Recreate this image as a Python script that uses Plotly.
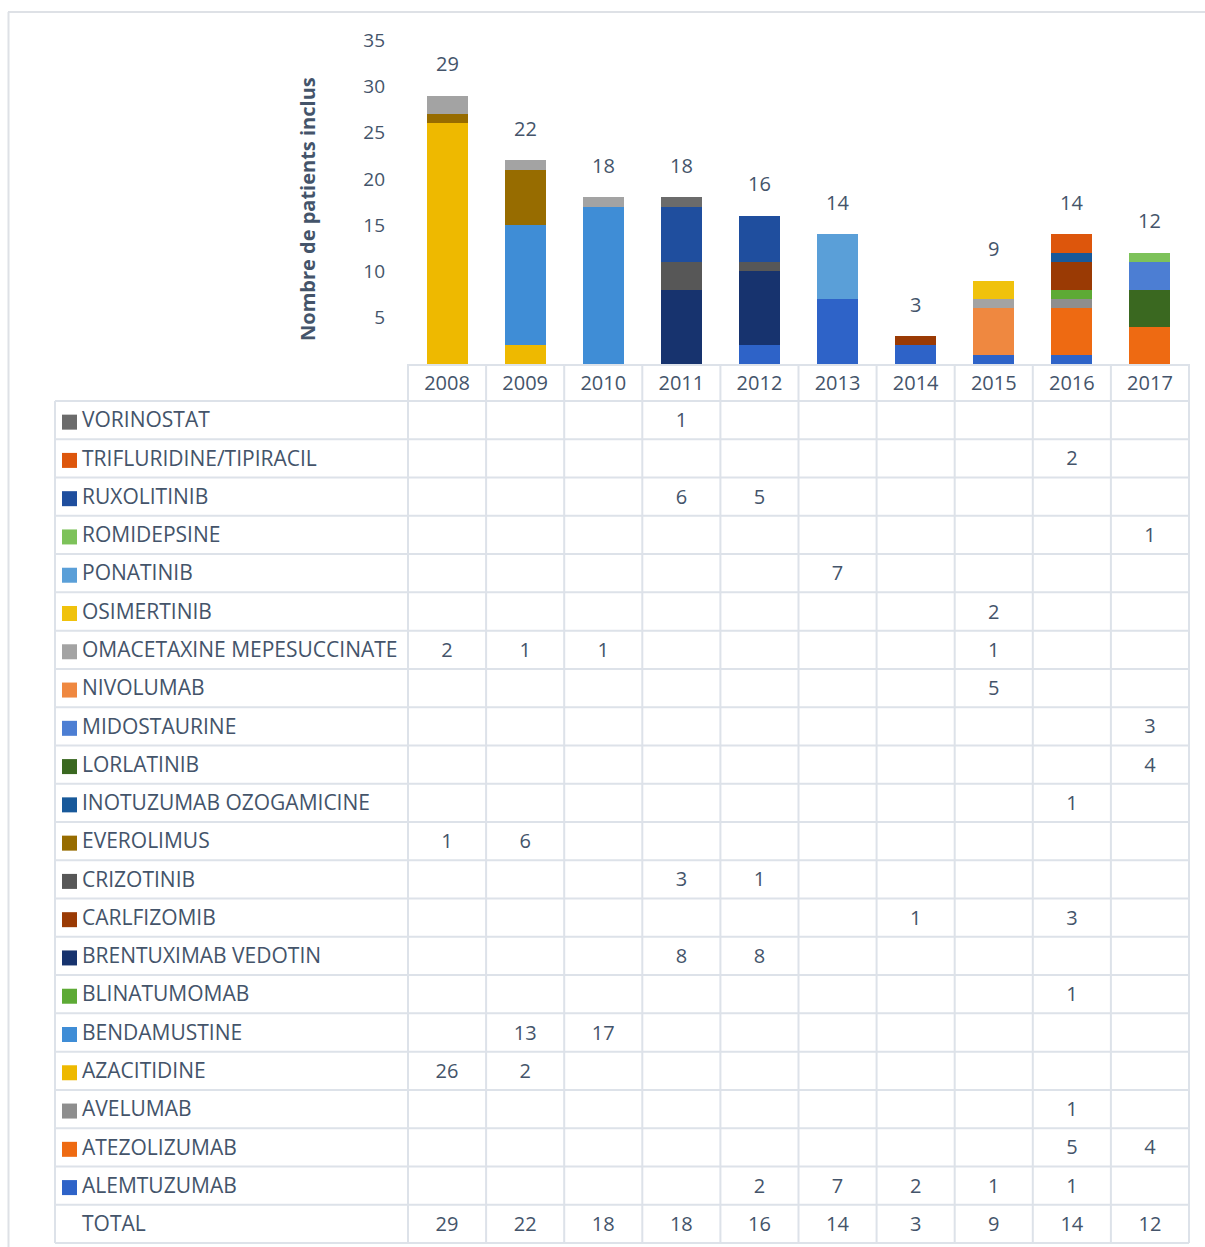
import plotly.graph_objects as go

W, H = 1205, 1247

years = ["2008", "2009", "2010", "2011", "2012", "2013", "2014", "2015", "2016", "2017"]

# values per drug (2008..2017)
vorinostat    = [0, 0, 0, 1, 0, 0, 0, 0, 0, 0]
trifluridine  = [0, 0, 0, 0, 0, 0, 0, 0, 2, 0]
ruxolitinib   = [0, 0, 0, 6, 5, 0, 0, 0, 0, 0]
romidepsine   = [0, 0, 0, 0, 0, 0, 0, 0, 0, 1]
ponatinib     = [0, 0, 0, 0, 0, 7, 0, 0, 0, 0]
osimertinib   = [0, 0, 0, 0, 0, 0, 0, 2, 0, 0]
omacetaxine   = [2, 1, 1, 0, 0, 0, 0, 1, 0, 0]
nivolumab     = [0, 0, 0, 0, 0, 0, 0, 5, 0, 0]
midostaurine  = [0, 0, 0, 0, 0, 0, 0, 0, 0, 3]
lorlatinib    = [0, 0, 0, 0, 0, 0, 0, 0, 0, 4]
inotuzumab    = [0, 0, 0, 0, 0, 0, 0, 0, 1, 0]
everolimus    = [1, 6, 0, 0, 0, 0, 0, 0, 0, 0]
crizotinib    = [0, 0, 0, 3, 1, 0, 0, 0, 0, 0]
carlfizomib   = [0, 0, 0, 0, 0, 0, 1, 0, 3, 0]
brentuximab   = [0, 0, 0, 8, 8, 0, 0, 0, 0, 0]
blinatumomab  = [0, 0, 0, 0, 0, 0, 0, 0, 1, 0]
bendamustine  = [0, 13, 17, 0, 0, 0, 0, 0, 0, 0]
azacitidine   = [26, 2, 0, 0, 0, 0, 0, 0, 0, 0]
avelumab      = [0, 0, 0, 0, 0, 0, 0, 0, 1, 0]
atezolizumab  = [0, 0, 0, 0, 0, 0, 0, 0, 5, 4]
alemtuzumab   = [0, 0, 0, 0, 2, 7, 2, 1, 1, 0]

drug_names = ["VORINOSTAT", "TRIFLURIDINE/TIPIRACIL", "RUXOLITINIB", "ROMIDEPSINE",
              "PONATINIB", "OSIMERTINIB", "OMACETAXINE MEPESUCCINATE", "NIVOLUMAB",
              "MIDOSTAURINE", "LORLATINIB", "INOTUZUMAB OZOGAMICINE", "EVEROLIMUS",
              "CRIZOTINIB", "CARLFIZOMIB", "BRENTUXIMAB VEDOTIN", "BLINATUMOMAB",
              "BENDAMUSTINE", "AZACITIDINE", "AVELUMAB", "ATEZOLIZUMAB", "ALEMTUZUMAB"]
drug_values = [vorinostat, trifluridine, ruxolitinib, romidepsine, ponatinib, osimertinib,
               omacetaxine, nivolumab, midostaurine, lorlatinib, inotuzumab, everolimus,
               crizotinib, carlfizomib, brentuximab, blinatumomab, bendamustine, azacitidine,
               avelumab, atezolizumab, alemtuzumab]
drug_colors = ["#6B6B6B", "#DD560C", "#1F4E9E", "#7DC25A", "#5A9FD8", "#F0C20C",
               "#A3A3A3", "#EF8840", "#4C7ED3", "#3A6820", "#18599A", "#976C00",
               "#575757", "#9A3A04", "#17336E", "#5DAA35", "#3F8DD6", "#EEB900",
               "#8E8E8E", "#EE6A12", "#2E63C8"]
total_label = "TOTAL"
y_ticks = [5, 10, 15, 20, 25, 30, 35]

totals = [sum(v[i] for v in drug_values) for i in range(len(years))]

TXT = "#44546A"
FONT = "Open Sans"
GRID = "#DDE2E9"


def px(x):
    return x / W


def py(y):
    return 1 - y / H


fig = go.Figure()

# stacked bars: bottom = last drug in table
for name, vals, col in reversed(list(zip(drug_names, drug_values, drug_colors))):
    fig.add_trace(go.Bar(x=years, y=vals, name=name, marker=dict(color=col, line=dict(width=0)),
                         xaxis="x", yaxis="y", showlegend=False, hoverinfo="x+y+name"))

# total labels above bars (x given as category index)
for i, t in enumerate(totals):
    fig.add_annotation(x=i, y=t, xref="x", yref="y", text=str(t), showarrow=False,
                       xanchor="center", yanchor="middle",
                       yshift=32, font=dict(size=20, color=TXT, family=FONT))

rows = drug_names + [total_label]

# table: swatches + labels
fig.add_trace(go.Scatter(x=[14.5] * len(drug_names), y=drug_names, mode="markers",
                         marker=dict(symbol="square", size=15, color=drug_colors, line=dict(width=0)),
                         xaxis="x2", yaxis="y2", showlegend=False, hoverinfo="skip"))
fig.add_trace(go.Scatter(x=[27] * len(rows), y=rows, mode="text", text=rows,
                         textposition="middle right",
                         textfont=dict(size=21, color=TXT, family=FONT),
                         xaxis="x2", yaxis="y2", showlegend=False, hoverinfo="skip"))

# table cell values
cx, cy, ct = [], [], []
for name, vals in zip(drug_names, drug_values):
    for yr, v in zip(years, vals):
        if v:
            cx.append(yr); cy.append(name); ct.append(str(v))
for yr, t in zip(years, totals):
    cx.append(yr); cy.append(total_label); ct.append(str(t))
fig.add_trace(go.Scatter(x=cx, y=cy, mode="text", text=ct, textposition="middle center",
                         textfont=dict(size=20, color=TXT, family=FONT),
                         xaxis="x", yaxis="y2", showlegend=False, hoverinfo="skip"))

# grid lines
shapes = []
top, bottom = 401, 1243
left_tab, left_plot, right = 55, 408, 1189
nrows = len(rows)
rh = (bottom - top) / nrows
for k in range(nrows + 1):
    yy = top + k * rh
    shapes.append(dict(type="line", xref="paper", yref="paper", x0=px(left_tab), x1=px(right),
                       y0=py(yy), y1=py(yy), line=dict(color=GRID, width=2)))
shapes.append(dict(type="line", xref="paper", yref="paper", x0=px(left_tab), x1=px(left_tab),
                   y0=py(top), y1=py(bottom), line=dict(color=GRID, width=2)))
cw = (right - left_plot) / len(years)
for j in range(len(years) + 1):
    xx = left_plot + j * cw
    shapes.append(dict(type="line", xref="paper", yref="paper", x0=px(xx), x1=px(xx),
                       y0=py(364), y1=py(bottom), line=dict(color=GRID, width=2)))
# outer chart frame
shapes.append(dict(type="line", xref="paper", yref="paper", x0=px(8), x1=1.0,
                   y0=py(12), y1=py(12), line=dict(color="#DEE1E6", width=2)))
shapes.append(dict(type="line", xref="paper", yref="paper", x0=px(8.5), x1=px(8.5),
                   y0=py(12), y1=0, line=dict(color="#DEE1E6", width=2)))

# y-axis title
fig.add_annotation(x=px(308), y=py(209), xref="paper", yref="paper", text="<b>Nombre de patients inclus</b>",
                   textangle=-90, showarrow=False, xanchor="center", yanchor="middle",
                   font=dict(size=20, color=TXT, family=FONT))

fig.update_layout(
    width=W, height=H, margin=dict(l=0, r=0, t=0, b=0, autoexpand=False),
    paper_bgcolor="white", plot_bgcolor="rgba(0,0,0,0)",
    barmode="stack", bargap=0.475,
    font=dict(family=FONT, color=TXT),
    shapes=shapes,
    xaxis=dict(domain=[px(left_plot), px(right)], type="category", categoryorder="array",
               categoryarray=years, range=[-0.5, len(years) - 0.5], anchor="y",
               showline=True, linecolor=GRID, linewidth=2, showgrid=False, ticks="",
               tickfont=dict(size=20, color=TXT, family=FONT), ticklabelstandoff=0,
               automargin=False),
    yaxis=dict(domain=[py(364), py(40)], range=[0, 35], tickvals=y_ticks, showgrid=False,
               zeroline=False, showline=False, ticks="", anchor="x", automargin=False,
               tickfont=dict(size=19, color=TXT, family=FONT), ticklabelstandoff=22),
    xaxis2=dict(domain=[px(left_tab), px(left_plot)], range=[0, left_plot - left_tab],
                visible=False, anchor="y2", automargin=False),
    yaxis2=dict(domain=[py(bottom + 2), py(top + 2)], type="category", categoryorder="array",
                categoryarray=rows, range=[nrows - 0.5, -0.5], visible=False, anchor="x2",
                automargin=False),
)

fig.write_html("out.html", config={"displayModeBar": False},
               post_script="document.body.style.margin='0';document.body.style.overflow='hidden';"
                           "document.documentElement.style.overflow='hidden';")
